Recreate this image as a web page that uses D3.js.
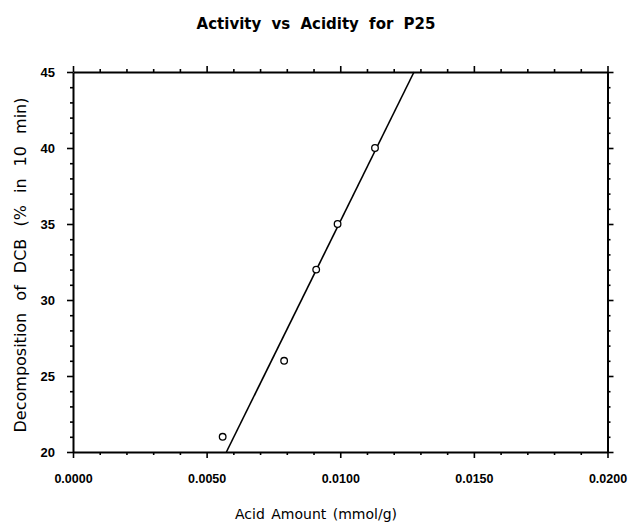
<!DOCTYPE html>
<html>
<head>
<meta charset="utf-8">
<script src="https://cdn.jsdelivr.net/npm/d3@7"></script>
<style>
  body { margin: 0; background: #fff; }
  svg { display: block; }
</style>
</head>
<body>
<svg id="chart" width="630" height="524"></svg>
<script>
// ---- data ----
const acidAmount = [0.0056, 0.0079, 0.0091, 0.0099, 0.0113];
const decomposition = [21, 26, 32, 35, 40];
const fitX = [0.00574, 0.01276];
const fitY = [20, 45];
const xTickValues = [0, 0.005, 0.010, 0.015, 0.020];
const xTickLabels = ["0.0000", "0.0050", "0.0100", "0.0150", "0.0200"];
const yTickValues = [20, 25, 30, 35, 40, 45];
const titleText = "Activity vs Acidity for P25";
const xLabelText = "Acid Amount (mmol/g)";
const yLabelText = "Decomposition of DCB (% in 10 min)";

const svg = d3.select("#chart");
const L = 73, R = 607.5, T = 72, B = 452;
const x = d3.scaleLinear().domain([0, 0.02]).range([L, R]);
const y = d3.scaleLinear().domain([20, 45]).range([B, T]);

const xMinor = d3.range(0, 0.0205, 0.001).filter(v => !xTickValues.some(t => Math.abs(t - v) < 1e-9));
const yMinor = d3.range(20, 45.5, 1).filter(v => !yTickValues.includes(v));

function styleAxis(g) {
  g.select(".domain").attr("stroke", "#000").attr("stroke-width", 2);
  g.selectAll(".tick line").attr("stroke", "#000").attr("stroke-width", 1.6);
}

// major axes
const fmt = d => xTickLabels[xTickValues.findIndex(t => Math.abs(t - d) < 1e-9)];
svg.append("g").attr("transform", `translate(0,${B})`)
  .call(d3.axisBottom(x).tickValues(xTickValues).tickSize(6).tickSizeOuter(0).tickPadding(16).tickFormat(fmt))
  .call(styleAxis)
  .call(g => g.selectAll("text").attr("font-family", "Liberation Sans, Arial, sans-serif").attr("font-weight", "bold").attr("font-size", 12.5).attr("fill", "#000"));
svg.append("g").attr("transform", `translate(0,${T})`)
  .call(d3.axisTop(x).tickValues(xTickValues).tickSize(6).tickSizeOuter(0).tickFormat(""))
  .call(styleAxis);
svg.append("g").attr("transform", `translate(${L},0)`)
  .call(d3.axisLeft(y).tickValues(yTickValues).tickSize(6).tickSizeOuter(0).tickPadding(12).tickFormat(d3.format("d")))
  .call(styleAxis)
  .call(g => g.selectAll("text").attr("font-family", "Liberation Sans, Arial, sans-serif").attr("font-weight", "bold").attr("font-size", 13).attr("fill", "#000"));
svg.append("g").attr("transform", `translate(${R},0)`)
  .call(d3.axisRight(y).tickValues(yTickValues).tickSize(6).tickSizeOuter(0).tickFormat(""))
  .call(styleAxis);

// minor ticks
function minor(axisFn, scale, vals, tr) {
  svg.append("g").attr("transform", tr)
    .call(axisFn(scale).tickValues(vals).tickSize(3).tickSizeOuter(0).tickFormat(""))
    .call(g => g.select(".domain").remove())
    .call(g => g.selectAll(".tick line").attr("stroke", "#000").attr("stroke-width", 1.6));
}
minor(d3.axisBottom, x, xMinor, `translate(0,${B})`);
minor(d3.axisTop, x, xMinor, `translate(0,${T})`);
minor(d3.axisLeft, y, yMinor, `translate(${L},0)`);
minor(d3.axisRight, y, yMinor, `translate(${R},0)`);

// fit line
svg.append("path")
  .datum(fitX.map((v, i) => [v, fitY[i]]))
  .attr("d", d3.line().x(d => x(d[0])).y(d => y(d[1])))
  .attr("fill", "none").attr("stroke", "#000").attr("stroke-width", 1.6);

// points
svg.append("g").selectAll("circle")
  .data(acidAmount.map((v, i) => [v, decomposition[i]]))
  .join("circle")
  .attr("cx", d => x(d[0])).attr("cy", d => y(d[1])).attr("r", 3.3)
  .attr("fill", "#fff").attr("stroke", "#000").attr("stroke-width", 1.3);

// title
svg.append("text").attr("x", 316).attr("y", 29).attr("text-anchor", "middle")
  .attr("font-family", "DejaVu Sans, sans-serif").attr("font-weight", "bold").attr("font-size", 15)
  .attr("word-spacing", 5)
  .text(titleText);

// x label
svg.append("text").attr("x", 316).attr("y", 519).attr("text-anchor", "middle")
  .attr("font-family", "DejaVu Sans, sans-serif").attr("font-size", 14)
  .attr("word-spacing", 2)
  .text(xLabelText);

// y label
svg.append("text").attr("transform", `translate(26,265) rotate(-90)`).attr("text-anchor", "middle")
  .attr("font-family", "DejaVu Sans, sans-serif").attr("font-weight", "500").attr("font-size", 16)
  .attr("word-spacing", 7)
  .text(yLabelText);
</script>
</body>
</html>
